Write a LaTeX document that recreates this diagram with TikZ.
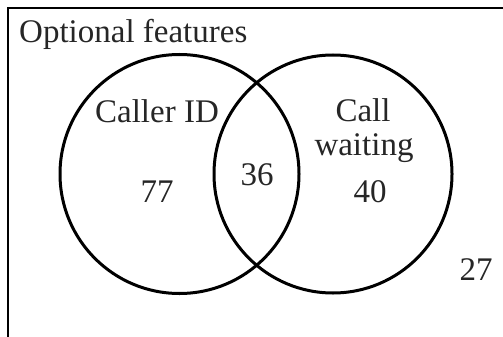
\documentclass[tikz,border=0pt]{standalone}
\usepackage{fontspec}
\setmainfont{Liberation Serif}
\begin{document}
\begin{tikzpicture}[x=1pt,y=-1pt,
  lbl/.style={anchor=base,inner sep=0pt,font=\fontsize{33}{34}\selectfont,text=black!85},
  ring/.style={draw=black,line width=3pt}]
\useasboundingbox (0,0) rectangle (503,337);
\draw[line width=2.4pt] (8,340) -- (8,8) -- (506,8);
\draw[ring] (179.5,174) circle (119.5);
\draw[ring] (333,174) circle (119);
\node[lbl,anchor=base west] (title) at (19,43) {Optional features};
\node[lbl] (cid) at (157,122) {Caller ID};
\node[lbl] (call) at (363,121) {Call};
\node[lbl] (wait) at (364,155) {waiting};
\node[lbl] (n36) at (257,185) {36};
\node[lbl] (n77) at (157,202) {77};
\node[lbl] (n40) at (370,202) {40};
\node[lbl] (n27) at (476,280) {27};
\end{tikzpicture}
\end{document}
